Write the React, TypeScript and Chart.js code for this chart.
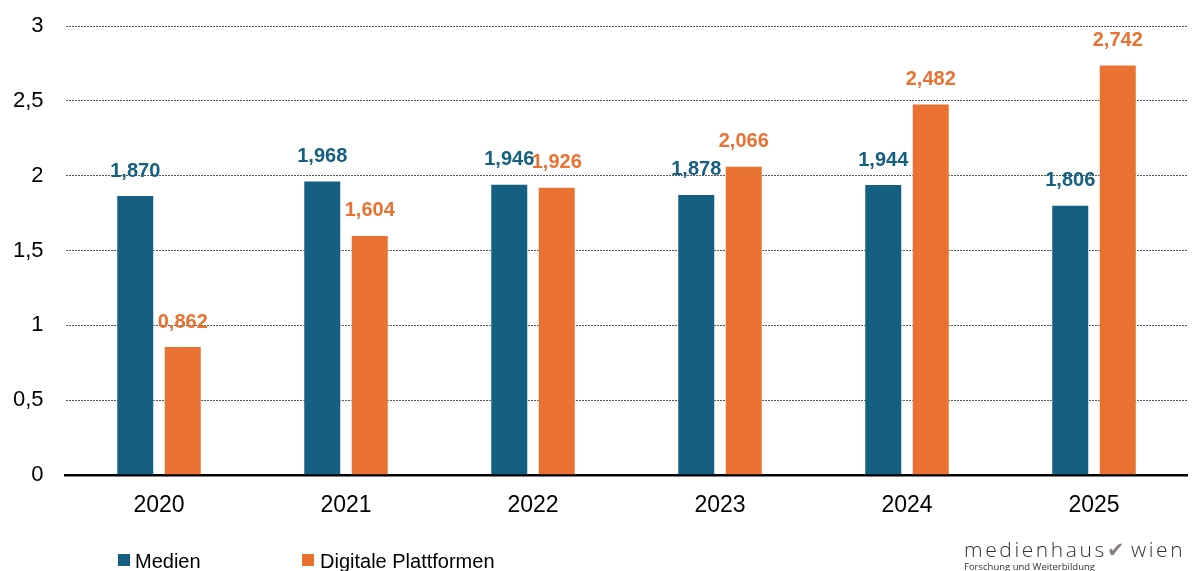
import React, { useEffect, useRef } from "react";
import { Chart, registerables } from "chart.js";

Chart.register(...registerables);

const years = ["2020", "2021", "2022", "2023", "2024", "2025"];
const medien = [1.87, 1.968, 1.946, 1.878, 1.944, 1.806];
const digitale = [0.862, 1.604, 1.926, 2.066, 2.482, 2.742];
const yTicks = [0, 0.5, 1, 1.5, 2, 2.5, 3];
const seriesNames = ["Medien", "Digitale Plattformen"];

const BLUE = "#156082";
const ORANGE = "#E97132";

const fmt = (v: number) => v.toFixed(3).replace(".", ",");

const labelPlugin = {
  id: "valueLabels",
  afterDatasetsDraw(chart: any) {
    const ctx = chart.ctx;
    ctx.save();
    ctx.font = "bold 20px 'Liberation Sans', Arial, sans-serif";
    ctx.textAlign = "center";
    ctx.textBaseline = "middle";
    chart.data.datasets.forEach((ds: any, i: number) => {
      const meta = chart.getDatasetMeta(i);
      ctx.fillStyle = ds.backgroundColor;
      meta.data.forEach((bar: any, j: number) => {
        ctx.fillText(fmt(ds.data[j]), bar.x, bar.y - 24);
      });
    });
    ctx.restore();
  },
};

export default function App() {
  const ref = useRef<HTMLCanvasElement>(null);

  useEffect(() => {
    if (!ref.current) return;
    const chart = new Chart(ref.current, {
      type: "bar",
      data: {
        labels: years,
        datasets: [
          {
            label: seriesNames[0],
            data: medien,
            backgroundColor: BLUE,
            borderColor: "rgba(255,255,255,0.45)",
            borderWidth: 1,
            categoryPercentage: 0.508,
            barPercentage: 0.8,
          },
          {
            label: seriesNames[1],
            data: digitale,
            backgroundColor: ORANGE,
            borderColor: "rgba(255,255,255,0.45)",
            borderWidth: 1,
            categoryPercentage: 0.508,
            barPercentage: 0.8,
          },
        ],
      },
      options: {
        responsive: false,
        animation: false,
        devicePixelRatio: 1,
        layout: { padding: { top: 26, right: 4.5, bottom: 0, left: 0 } },
        plugins: {
          legend: { display: false },
          tooltip: { enabled: false },
        },
        scales: {
          x: {
            grid: { display: false, drawTicks: false },
            border: { display: true, color: "#000", width: 2.5 },
            ticks: {
              color: "#000",
              font: { family: "'Liberation Sans', Arial, sans-serif", size: 23 },
              padding: 17,
            },
            afterFit(scale: any) {
              scale.height = 96;
              scale.paddingLeft = 0;
              scale.paddingRight = 0;
            },
          },
          y: {
            min: 0,
            max: 3,
            afterBuildTicks(scale: any) {
              scale.ticks = yTicks.map((v) => ({ value: v }));
            },
            grid: { color: "#555", lineWidth: 1, drawTicks: false },
            border: { display: false, dash: [2, 1] },
            ticks: {
              color: "#000",
              font: { family: "'Liberation Sans', Arial, sans-serif", size: 22 },
              padding: 22,
              callback: (v: any) => String(v).replace(".", ","),
            },
            afterFit(scale: any) {
              scale.width = 65.5;
              scale.paddingTop = 0;
              scale.paddingBottom = 0;
            },
          },
        },
      },
      plugins: [labelPlugin],
    });
    return () => chart.destroy();
  }, []);

  const legendText: React.CSSProperties = {
    position: "absolute",
    fontFamily: "'Liberation Sans', Arial, sans-serif",
    fontSize: 20,
    color: "#000",
    lineHeight: "20px",
    whiteSpace: "nowrap",
  };

  return (
    <div
      style={{
        position: "fixed",
        left: 0,
        top: 0,
        width: 1192,
        height: 571,
        overflow: "hidden",
        background: "#fff",
      }}
    >
      <canvas ref={ref} width={1192} height={571} style={{ position: "absolute", left: 0, top: 0 }} />
      <div style={{ position: "absolute", left: 118, top: 554, width: 12, height: 12, background: BLUE }} />
      <div style={{ ...legendText, left: 135, top: 551 }}>{seriesNames[0]}</div>
      <div style={{ position: "absolute", left: 302, top: 554, width: 12, height: 12, background: ORANGE }} />
      <div style={{ ...legendText, left: 320, top: 551 }}>{seriesNames[1]}</div>
      <div
        style={{
          position: "absolute",
          left: 964,
          top: 537,
          whiteSpace: "nowrap",
          fontFamily: "'Open Sans', sans-serif",
          fontWeight: 300,
          color: "#333",
        }}
      >
        <div style={{ fontSize: 21, lineHeight: "25px", letterSpacing: 2.6 }}>
          medienhaus
          <span style={{ color: "#8a8080", fontSize: 21, margin: "0 3px 0 0", letterSpacing: 0 }}>✔</span>
          <span style={{ marginLeft: 3 }}>wien</span>
        </div>
        <div style={{ fontSize: 9.5, lineHeight: "10px", marginTop: 0, fontWeight: 400, letterSpacing: 0 }}>
          Forschung und Weiterbildung
        </div>
      </div>
    </div>
  );
}
